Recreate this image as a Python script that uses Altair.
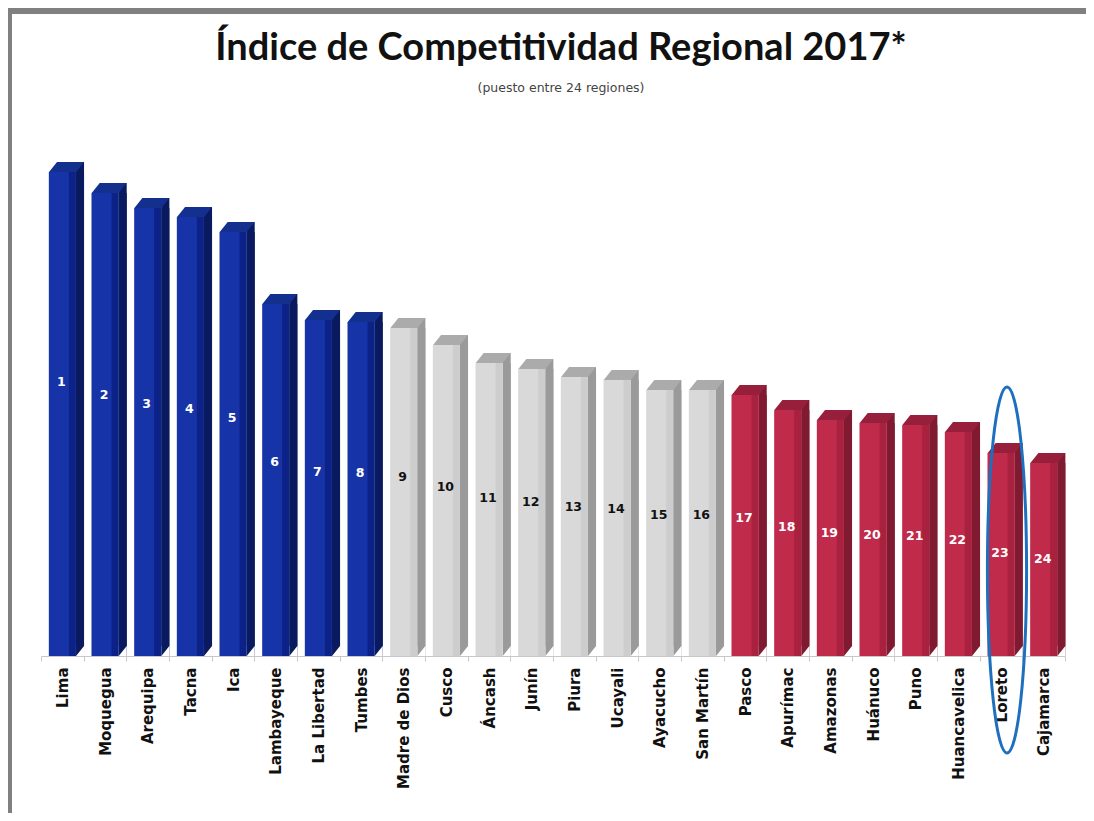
import altair as alt
import pandas as pd

regions = ["Lima", "Moquegua", "Arequipa", "Tacna", "Ica", "Lambayeque", "La Libertad",
           "Tumbes", "Madre de Dios", "Cusco", "Áncash", "Junín", "Piura", "Ucayali",
           "Ayacucho", "San Martín", "Pasco", "Apurímac", "Amazonas", "Huánuco", "Puno",
           "Huancavelica", "Loreto", "Cajamarca"]
ranks = [1, 2, 3, 4, 5, 6, 7, 8, 9, 10, 11, 12, 13, 14, 15, 16, 17, 18, 19, 20, 21, 22, 23, 24]
values = [4.84, 4.63, 4.48, 4.39, 4.24, 3.52, 3.36, 3.34, 3.28, 3.11, 2.93, 2.87, 2.79, 2.76,
          2.66, 2.66, 2.61, 2.46, 2.36, 2.33, 2.31, 2.24, 2.03, 1.93]
groups = ["Alto", "Alto", "Alto", "Alto", "Alto", "Alto", "Alto", "Alto",
          "Medio", "Medio", "Medio", "Medio", "Medio", "Medio", "Medio", "Medio",
          "Bajo", "Bajo", "Bajo", "Bajo", "Bajo", "Bajo", "Bajo", "Bajo"]

df = pd.DataFrame({"region": regions, "rank": ranks, "value": values, "group": groups})

W, H = 1024, 500
yscale = alt.Scale(domain=[0, 5], nice=False)
xscale = alt.Scale(paddingInner=0, paddingOuter=0)

xenc = alt.X("region:N", sort=regions, scale=xscale,
             axis=alt.Axis(title=None, labelAngle=-90, labelFont="DejaVu Sans",
                           labelFontWeight="bold", labelFontSize=15, labelColor="#111111",
                           labelPadding=6, domainColor="#c8c8c8", tickColor="#c8c8c8",
                           tickBand="extent", tickSize=5, grid=False))

base = alt.Chart(df).encode(x=xenc)
yenc = alt.Y("value:Q", scale=yscale, axis=None)

side_expr = "datum.group == 'Alto' ? '#0a1a5e' : (datum.group == 'Medio' ? '#9a9a9a' : '#7f1a31')"
top_expr = "datum.group == 'Alto' ? '#13308f' : (datum.group == 'Medio' ? '#ababab' : '#981f3b')"
front_expr = "datum.group == 'Alto' ? '#1634a8' : (datum.group == 'Medio' ? '#d9d9d9' : '#c02a4b')"
shade_expr = "datum.group == 'Alto' ? '#0d2286' : (datum.group == 'Medio' ? '#cdcdcd' : '#a8223f')"

side_up = base.mark_bar(width=8, xOffset=17.7, yOffset=-10).transform_calculate(
    c=side_expr).encode(y=yenc, color=alt.Color("c:N", scale=None))
side_low = base.mark_bar(width=8, xOffset=17.7).transform_calculate(
    c=side_expr).encode(y=yenc, color=alt.Color("c:N", scale=None))

top_path = "M-1,0.286 L0.543,0.286 L1,-0.286 L-0.543,-0.286 Z"
top = base.mark_point(shape=top_path, size=1225, filled=True, opacity=1, strokeWidth=0,
                      xOffset=4.2, yOffset=-5).transform_calculate(c=top_expr).encode(
    y=yenc, color=alt.Color("c:N", scale=None))

tri_path = "M-0.8,1 L0.8,1 L0.8,-1 Z"
floor_tri = base.mark_point(shape=tri_path, size=100, filled=True, opacity=1, strokeWidth=0,
                            color="white", xOffset=17.7, yOffset=-5).transform_calculate(
    zero="0").encode(y=alt.Y("zero:Q", scale=yscale, axis=None))

front = base.mark_bar(width=27).transform_calculate(c=front_expr).encode(
    y=yenc, color=alt.Color("c:N", scale=None))
shade = base.mark_bar(width=7, xOffset=10).transform_calculate(c=shade_expr).encode(
    y=yenc, color=alt.Color("c:N", scale=None))

labels = base.mark_text(font="DejaVu Sans", fontWeight="bold", fontSize=12.5, dx=-1
                        ).transform_calculate(pos="datum.value * 0.61 - 0.21").encode(
    y=alt.Y("pos:Q", scale=yscale, axis=None),
    text="rank:N",
    color=alt.condition(alt.datum.group == "Medio", alt.value("#111111"), alt.value("white")))

k = 0.0591
rx = 0.107
ell_path = (f"M0,-1 C{k},-1 {rx},-0.5523 {rx},0 C{rx},0.5523 {k},1 0,1 "
            f"C{-k},1 {-rx},0.5523 {-rx},0 C{-rx},-0.5523 {-k},-1 0,-1 Z")
ellipse = base.transform_filter(alt.datum.region == "Loreto").mark_point(
    shape=ell_path, size=133956, filled=False, stroke="#1f6fbf", strokeWidth=3,
    opacity=1, xOffset=6).encode(y=alt.value(414))

left_border = alt.Chart(df).mark_rule(color="#808080", strokeWidth=4).encode(
    x=alt.value(-31), y=alt.value(-145), y2=alt.value(657))
top_border = alt.Chart(df).mark_rule(color="#808080", strokeWidth=6).encode(
    x=alt.value(-33), x2=alt.value(1045), y=alt.value(-145))

chart = alt.layer(side_up, side_low, top, front, shade, floor_tri, labels, ellipse,
                  left_border, top_border).properties(
    width=W, height=H,
    autosize=alt.AutoSizeParams(type="none"),
    padding={"left": 33, "top": 148, "right": 21, "bottom": 157},
    background="white",
    title=alt.TitleParams(text="Índice de Competitividad Regional 2017*",
                          subtitle="(puesto entre 24 regiones)",
                          font="Lato", fontSize=38, fontWeight="bold", color="#111111",
                          subtitleFont="DejaVu Sans", subtitleFontSize=12.5,
                          subtitleColor="#444444", subtitleFontWeight="normal",
                          subtitlePadding=14, anchor="middle", frame="group", offset=-86, dx=8)
).configure_view(stroke=None)

chart.save("out.html", embed_options={"renderer": "svg", "actions": False})
